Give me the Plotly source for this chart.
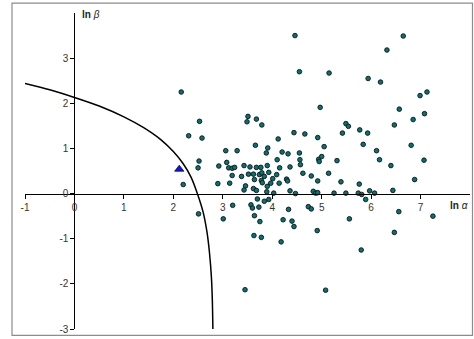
import plotly.graph_objects as go

# Data
pts_x = [2.16, 2.53, 2.31, 2.58, 3.06, 3.29, 2.52, 3.08, 2.92, 2.50, 3.12, 3.19, 3.24, 2.20, 2.90, 3.14, 3.19, 2.51, 3.01, 3.20,
         3.51, 3.49, 3.68, 3.79, 3.66, 3.91, 3.88, 3.43, 3.55, 3.68, 3.77, 3.90,
         3.38, 3.52, 3.62, 3.74, 3.79, 3.84, 3.93, 4.09, 4.01,
         3.64, 3.78, 3.80, 3.97, 3.90, 3.46, 3.43, 3.62, 3.68, 3.89, 4.03,
         4.14, 4.29, 4.31, 4.36, 4.47,
         3.57, 3.60, 3.73, 3.70, 3.84, 3.93, 3.64, 3.75, 3.63, 3.78,
         4.33, 4.22, 4.40, 4.44, 4.18, 3.45, 5.08,
         4.12, 4.20, 4.32, 4.55, 4.10, 4.56, 4.57, 4.15, 4.36, 4.62, 4.44, 4.66, 4.46, 4.55,
         4.79, 4.92, 5.14, 4.83, 4.88, 4.92, 5.25, 5.39, 5.49,
         4.73, 4.79, 4.91, 5.56,
         4.97, 5.15, 4.92, 5.05, 4.94, 5.00, 4.95, 5.31, 5.42, 5.49, 5.54,
         5.76, 5.74, 5.81, 5.89, 5.97, 6.07, 6.44, 6.88,
         5.80, 6.56, 7.25, 6.47,
         6.65, 6.32, 5.94, 6.19, 6.99, 7.13, 6.57, 6.85, 7.08, 6.47, 5.77, 5.93, 5.84, 6.81, 6.11, 6.17, 7.07, 6.40]
pts_y = [2.25, 1.60, 1.28, 1.23, 0.95, 0.95, 0.72, 0.69, 0.61, 0.57, 0.57, 0.56, 0.58, 0.20, 0.22, 0.23, 0.40, -0.45, -0.56, -0.26,
         1.71, 1.59, 1.65, 1.52, 1.07, 1.01, 0.90, 0.62, 0.59, 0.58, 0.58, 0.62,
         0.38, 0.43, 0.43, 0.42, 0.46, 0.38, 0.47, 0.42, 0.33,
         0.31, 0.29, 0.24, 0.23, 0.16, 0.17, 0.08, 0.11, 0.07, 0.04, 0.01,
         0.23, 0.32, 0.28, 0.06, 0.00,
         -0.25, -0.32, -0.30, -0.12, -0.17, -0.13, -0.49, -0.62, -0.93, -0.97,
         -0.35, -0.58, -0.61, -0.73, -1.07, -2.13, -2.14,
         1.21, 0.92, 0.88, 0.90, 0.75, 0.75, 0.64, 0.57, 0.59, 0.45, 1.35, 1.32, 3.50, 2.70,
         0.39, 0.28, 0.45, 0.05, 0.01, 0.02, 0.01, 0.26, 0.01,
         -0.29, -0.34, -0.82, -0.56,
         1.91, 2.67, 1.24, 1.04, 0.76, 0.82, 0.71, 0.73, 1.34, 1.55, 1.49,
         0.21, 0.01, -0.02, -0.13, 0.06, 0.01, 0.07, 0.31,
         -1.25, -0.40, -0.50, -0.86,
         3.49, 3.18, 2.55, 2.47, 2.17, 2.25, 1.87, 1.64, 1.77, 1.52, 1.41, 1.34, 1.09, 1.07, 0.95, 0.75, 0.74, 0.62]

tri_x = [2.12]
tri_y = [0.54]

curve_x = [-1.0, -0.5, 0.0, 0.5, 1.0, 1.4, 1.74, 2.0, 2.2, 2.36, 2.48, 2.60, 2.68, 2.73, 2.77, 2.79, 2.80]
curve_y = [2.44, 2.30, 2.13, 1.94, 1.70, 1.46, 1.20, 0.93, 0.66, 0.36, 0.02, -0.40, -0.85, -1.30, -1.85, -2.40, -3.0]

x_ticks = [-1, 0, 1, 2, 3, 4, 5, 6, 7]
y_ticks = [-3, -2, -1, 0, 1, 2, 3]

fig = go.Figure()
fig.add_trace(go.Scatter(x=curve_x, y=curve_y, mode="lines",
                         line=dict(color="black", width=1.5, shape="spline", smoothing=0.8),
                         hoverinfo="skip", showlegend=False, cliponaxis=True))
fig.add_trace(go.Scatter(x=pts_x, y=pts_y, mode="markers",
                         marker=dict(size=4.6, color="#007575", line=dict(color="#111111", width=0.9)),
                         showlegend=False))
fig.add_trace(go.Scatter(x=tri_x, y=tri_y, mode="markers",
                         marker=dict(symbol="triangle-up", size=8, color="#1515D0",
                                     line=dict(color="#000070", width=0.8)),
                         showlegend=False))

tickfont = dict(family="Liberation Sans, Arial, sans-serif", size=10, color="#333333")
fig.update_layout(
    width=474, height=339,
    margin=dict(l=25, r=4, t=13, b=8),
    paper_bgcolor="white", plot_bgcolor="white",
    xaxis=dict(range=[-1, 8], anchor="free", position=3 / 7, showgrid=False, zeroline=False,
               showline=True, linecolor="black", linewidth=1.3,
               ticks="outside", ticklen=4, tickcolor="black", tickwidth=1,
               tickvals=x_ticks, ticktext=[str(v) for v in x_ticks], tickfont=tickfont),
    yaxis=dict(range=[-3, 4], anchor="free", position=1 / 9, showgrid=False, zeroline=False,
               showline=True, linecolor="black", linewidth=1.3,
               ticks="outside", ticklen=4, tickcolor="black", tickwidth=1,
               tickvals=y_ticks, ticktext=[str(v) for v in y_ticks], tickfont=tickfont),
    shapes=[dict(type="rect", xref="paper", yref="paper",
                 x0=-0.0292, x1=1.0056, y0=-0.0204, y1=1.0314,
                 line=dict(color="#8c8c8c", width=1.2), fillcolor="rgba(0,0,0,0)", layer="below")],
    annotations=[
        dict(xref="paper", yref="paper", x=0.1236, y=0.9937, xanchor="left", yanchor="middle",
             text="<b>ln</b> <i>β</i>", showarrow=False,
             font=dict(family="Liberation Sans, Arial, sans-serif", size=10, color="#222222")),
        dict(xref="paper", yref="paper", x=0.951, y=0.39, xanchor="left", yanchor="middle",
             text="<b>ln</b> <i>α</i>", showarrow=False,
             font=dict(family="Liberation Sans, Arial, sans-serif", size=10, color="#222222")),
    ],
)

fig.write_html("out.html", config={"displayModeBar": False},
               post_script="document.body.style.margin='0';")
